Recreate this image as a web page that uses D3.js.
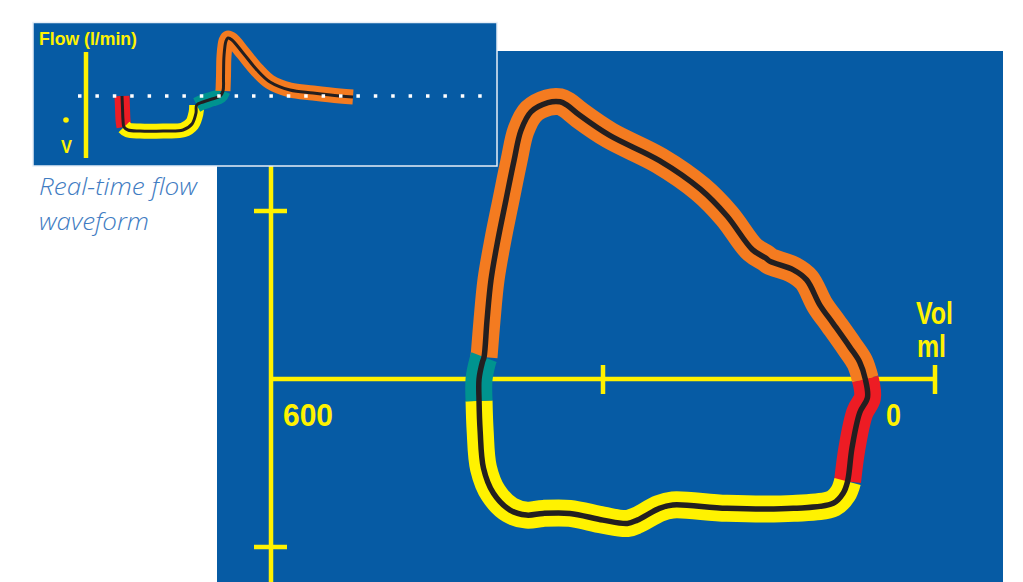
<!DOCTYPE html>
<html>
<head>
<meta charset="utf-8">
<script src="https://cdn.jsdelivr.net/npm/d3@7"></script>
<style>
  html, body { margin: 0; padding: 0; background: #ffffff; }
  svg { display: block; }
</style>
</head>
<body>
<svg id="chart" width="1023" height="582"></svg>
<script>
// ---------- Main flow-volume loop (volume in ml, flow in tick units) ----------
const volumeTicks = [600, 300, 0];
const volumeTickLabels = ["600", "0"];
const flowTicks = [1, -1];

const mainRedVol   = [63, 61, 68, 75, 79];
const mainRedFlow  = [0, -0.11, -0.20, -0.41, -0.61];

const mainYellowVol  = [79, 83, 92, 128, 188, 237, 249, 269, 278, 300, 330, 354, 369, 384, 399, 408, 411, 412];
const mainYellowFlow = [-0.61, -0.68, -0.74, -0.77, -0.77, -0.75, -0.77, -0.84, -0.86, -0.84, -0.80, -0.80, -0.81, -0.78, -0.68, -0.53, -0.31, -0.13];

const mainTealVol  = [412, 412, 409, 407.5];
const mainTealFlow = [-0.13, 0, 0.10, 0.13];

const mainOrangeVol  = [407.5, 404.8, 401.2, 394.9, 387.7, 380.4, 374.1, 365.1, 349.7, 338.8, 332.5, 321, 294, 249, 212, 188, 165, 153, 149, 128, 116, 104, 92, 77, 68, 63];
const mainOrangeFlow = [0.13, 0.35, 0.59, 0.83, 1.065, 1.30, 1.48, 1.59, 1.645, 1.65, 1.63, 1.57, 1.45, 1.30, 1.13, 0.97, 0.77, 0.72, 0.70, 0.65, 0.59, 0.44, 0.33, 0.19, 0.10, 0];

// ---------- Inset real-time flow waveform (time in s, flow in l/min) ----------
const insetRedTime = [0.36, 0.365, 0.37, 0.38];
const insetRedFlow = [0, -12, -24, -31];

const insetYellowTime = [0.38, 0.42, 0.54, 0.77, 0.97, 1.06, 1.10, 1.107];
const insetYellowFlow = [-31, -34, -35, -35, -34, -28, -17, -9];

const insetTealTime = [1.107, 1.17, 1.26, 1.34, 1.37];
const insetTealFlow = [-9, -6, -3, 0, 5];

const insetOrangeTime = [1.37, 1.375, 1.38, 1.40, 1.42, 1.46, 1.57, 1.71, 1.84, 2.04, 2.27, 2.54, 2.67];
const insetOrangeFlow = [5, 20, 40, 55, 58, 56, 43, 26, 14, 6, 3, 0, -1];

// ---------- Styling ----------
const BLUE = "#065ba4";
const YELLOW = "#fff200";
const ORANGE = "#f47b20";
const RED = "#ed1c24";
const TEAL = "#00938f";
const BLACK = "#231f20";
const BOLD_FONT = "'Liberation Sans', Arial, sans-serif";

const svg = d3.select("#chart");

// main panel
svg.append("rect").attr("x", 217).attr("y", 51).attr("width", 786).attr("height", 531).attr("fill", BLUE);

const x = d3.scaleLinear().domain([600, 0]).range([271, 935]);
const y = d3.scaleLinear().domain([-1, 1]).range([547, 211]);

// axes
const axisG = svg.append("g").attr("stroke", YELLOW).attr("stroke-width", 4.5).attr("fill", "none");
axisG.append("line").attr("x1", x(600)).attr("x2", x(600)).attr("y1", 51).attr("y2", 582);
axisG.append("line").attr("x1", x(600)).attr("x2", x(0)).attr("y1", y(0)).attr("y2", y(0));
volumeTicks.filter(v => v !== 600).forEach(v => {
  axisG.append("line").attr("x1", x(v)).attr("x2", x(v)).attr("y1", y(0) - 14).attr("y2", y(0) + 15);
});
flowTicks.forEach(f => {
  axisG.append("line").attr("x1", x(600) - 17).attr("x2", x(600) + 16).attr("y1", y(f)).attr("y2", y(f));
});

const labelG = svg.append("g").attr("fill", YELLOW).attr("font-family", BOLD_FONT).attr("font-weight", "bold")
  .attr("font-size", 32).attr("lengthAdjust", "spacingAndGlyphs");
labelG.append("text").attr("x", x(600) + 12).attr("y", 426).attr("textLength", 50).attr("lengthAdjust", "spacingAndGlyphs").text(volumeTickLabels[0]);
labelG.append("text").attr("x", 886).attr("y", 426).attr("textLength", 15).attr("lengthAdjust", "spacingAndGlyphs").text(volumeTickLabels[1]);
labelG.append("text").attr("x", 916).attr("y", 324).attr("textLength", 37).attr("lengthAdjust", "spacingAndGlyphs").text("Vol");
labelG.append("text").attr("x", 917).attr("y", 357).attr("textLength", 29).attr("lengthAdjust", "spacingAndGlyphs").text("ml");

// loop
const zip = (a, b) => a.map((v, i) => [v, b[i]]);
const mainLine = d3.line().x(d => x(d[0])).y(d => y(d[1])).curve(d3.curveCatmullRom.alpha(0.5));
const mainSegs = [
  { pts: zip(mainOrangeVol, mainOrangeFlow), color: ORANGE },
  { pts: zip(mainRedVol, mainRedFlow), color: RED },
  { pts: zip(mainYellowVol, mainYellowFlow), color: YELLOW },
  { pts: zip(mainTealVol, mainTealFlow), color: TEAL }
];
const loopG = svg.append("g");
mainSegs.forEach(s => {
  loopG.append("path").attr("d", mainLine(s.pts)).attr("fill", "none")
    .attr("stroke", s.color).attr("stroke-width", 27).attr("stroke-linecap", "butt").attr("stroke-linejoin", "round");
});
const allMain = [].concat(
  zip(mainRedVol, mainRedFlow).slice(0, -1),
  zip(mainYellowVol, mainYellowFlow).slice(0, -1),
  zip(mainTealVol, mainTealFlow).slice(0, -1),
  zip(mainOrangeVol, mainOrangeFlow).slice(0, -1)
);
loopG.append("path")
  .attr("d", d3.line().x(d => x(d[0])).y(d => y(d[1])).curve(d3.curveCatmullRomClosed.alpha(0.5))(allMain))
  .attr("fill", "none").attr("stroke", BLACK).attr("stroke-width", 5.5);

// ---------- Inset ----------
svg.append("rect").attr("x", 33).attr("y", 22.5).attr("width", 464).attr("height", 143.5)
  .attr("fill", BLUE).attr("stroke", "#e6eef7").attr("stroke-width", 1.5);

const tx = d3.scaleLinear().domain([0, 4]).range([86, 486]);
const ty = d3.scaleLinear().domain([-60, 60]).range([156, 36]);

svg.append("line").attr("x1", tx(0)).attr("x2", tx(0)).attr("y1", 52).attr("y2", 158)
  .attr("stroke", YELLOW).attr("stroke-width", 4.5);

svg.append("text").attr("x", 39).attr("y", 45).attr("fill", YELLOW).attr("font-family", BOLD_FONT)
  .attr("font-weight", "bold").attr("font-size", 18).attr("textLength", 98).attr("lengthAdjust", "spacingAndGlyphs")
  .text("Flow (l/min)");
svg.append("circle").attr("cx", 66).attr("cy", 120).attr("r", 2.8).attr("fill", YELLOW);
svg.append("text").attr("x", 61).attr("y", 153).attr("fill", YELLOW).attr("font-family", BOLD_FONT)
  .attr("font-weight", "bold").attr("font-size", 18).attr("textLength", 11).attr("lengthAdjust", "spacingAndGlyphs").text("V");

const insetLine = d3.line().x(d => tx(d[0])).y(d => ty(d[1])).curve(d3.curveCatmullRom.alpha(0.5));
const insetSegs = [
  { pts: zip(insetRedTime, insetRedFlow), color: RED },
  { pts: zip(insetYellowTime, insetYellowFlow), color: YELLOW },
  { pts: zip(insetTealTime, insetTealFlow), color: TEAL },
  { pts: zip(insetOrangeTime, insetOrangeFlow), color: ORANGE }
];
const insetG = svg.append("g");
insetSegs.forEach(s => {
  insetG.append("path").attr("d", insetLine(s.pts)).attr("fill", "none")
    .attr("stroke", s.color).attr("stroke-width", 15).attr("stroke-linecap", "butt").attr("stroke-linejoin", "round");
});
const allInset = [].concat(
  zip(insetRedTime, insetRedFlow).slice(0, -1),
  zip(insetYellowTime, insetYellowFlow).slice(0, -1),
  zip(insetTealTime, insetTealFlow).slice(0, -1),
  zip(insetOrangeTime, insetOrangeFlow)
);
insetG.append("path").attr("d", insetLine(allInset)).attr("fill", "none")
  .attr("stroke", BLACK).attr("stroke-width", 3);

// zero-flow dotted baseline
svg.append("line").attr("x1", 78).attr("x2", 482).attr("y1", ty(0)).attr("y2", ty(0))
  .attr("stroke", "#ffffff").attr("stroke-width", 3.5).attr("stroke-dasharray", "3.5 13.9");

// caption
const cap = svg.append("text").attr("fill", "#3f7cc2").attr("font-family", "'Open Sans', Lato, sans-serif")
  .attr("font-style", "italic").attr("font-weight", 300).attr("font-size", 24);
cap.append("tspan").attr("x", 39).attr("y", 195).attr("textLength", 158).attr("lengthAdjust", "spacingAndGlyphs").text("Real-time flow");
cap.append("tspan").attr("x", 39).attr("y", 230).attr("textLength", 110).attr("lengthAdjust", "spacingAndGlyphs").text("waveform");
</script>
</body>
</html>
